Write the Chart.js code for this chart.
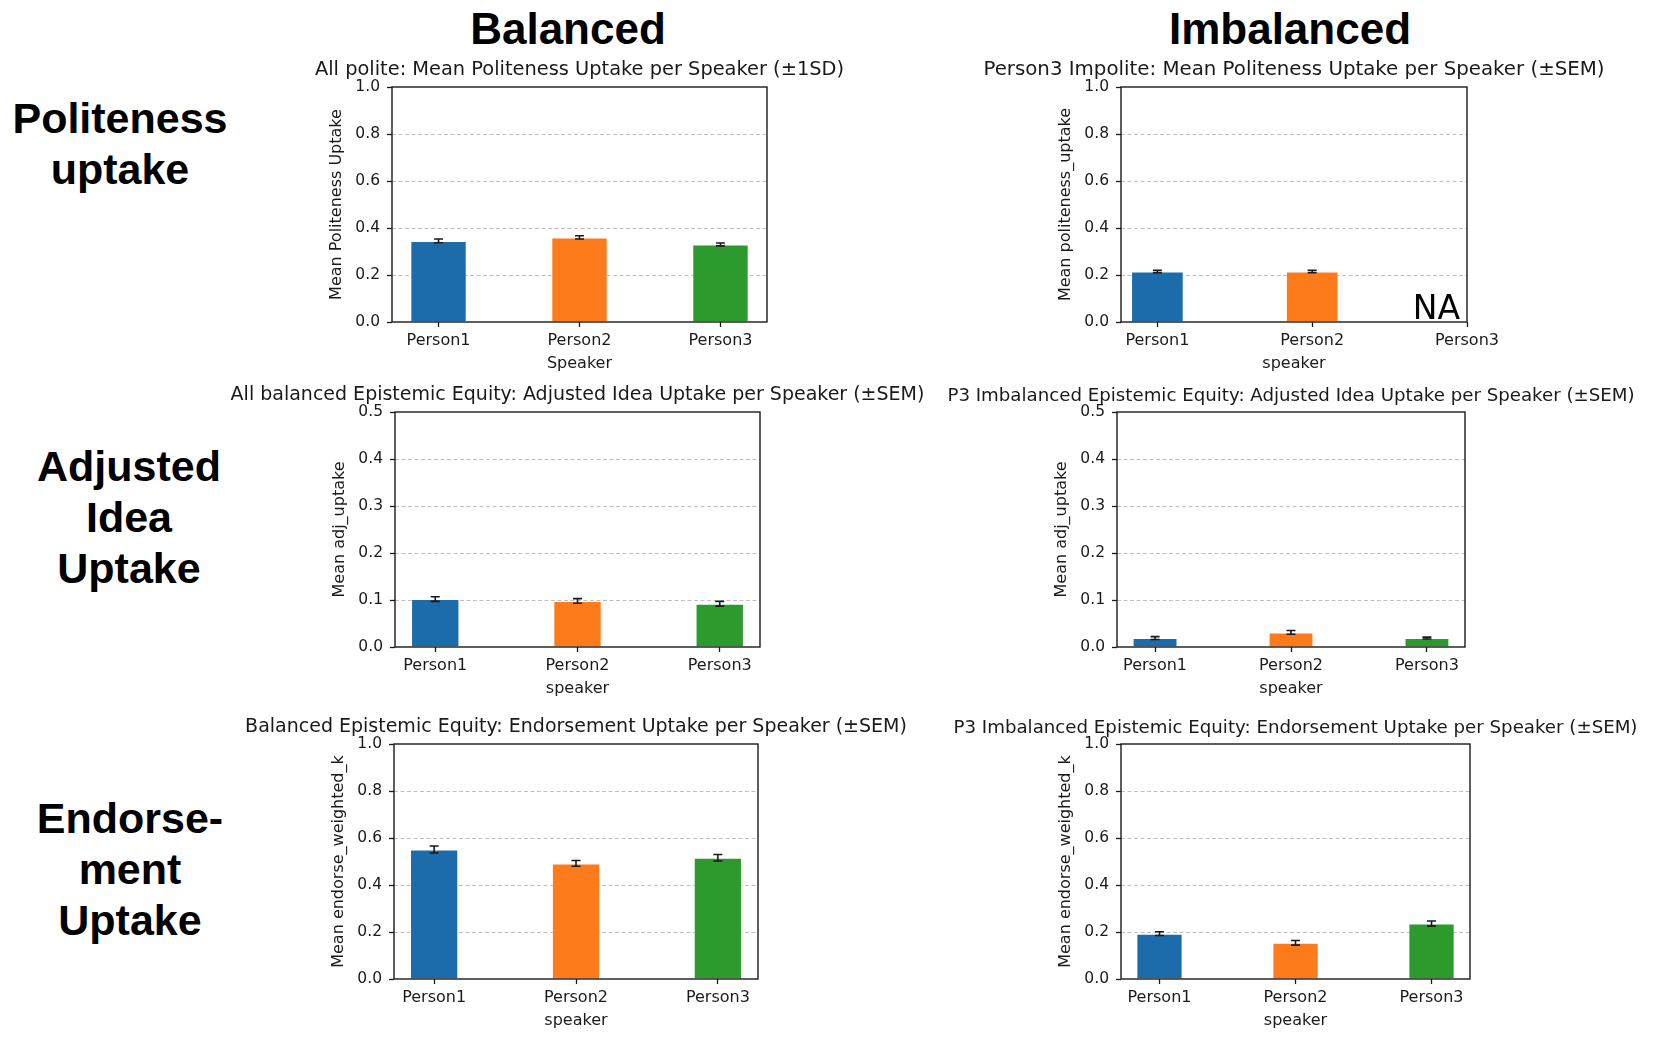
<!DOCTYPE html>
<html lang="en">
  <head>
    <meta charset="UTF-8" />
    <title>Uptake per Speaker</title>
    <script src="https://cdn.jsdelivr.net/npm/chart.js"></script>
    <style>
      body { margin: 0; background: #fff; }
      #page { position: relative; width: 1679px; height: 1047px; overflow: hidden; }
      .head, .row {
        position: absolute;
        font-family: "Liberation Sans", Arial, sans-serif;
        font-weight: bold;
        color: #000;
        text-align: center;
        white-space: nowrap;
      }
      .head { font-size: 44px; line-height: 52px; width: 400px; }
      .row { font-size: 43px; line-height: 51px; width: 240px; }
      canvas { position: absolute; }
    </style>
  </head>
  <body>
    <div id="page">
      <div class="head" style="left: 368px; top: 3px">Balanced</div>
      <div class="head" style="left: 1090px; top: 3px">Imbalanced</div>
      <div class="row" style="left: 0px; top: 93px">Politeness<br />uptake</div>
      <div class="row" style="left: 9px; top: 441px">Adjusted<br />Idea<br />Uptake</div>
      <div class="row" style="left: 10px; top: 793px">Endorse-<br />ment<br />Uptake</div>
    </div>

    <script>
      // speakers on the x axis
      const speakers = ["Person1", "Person2", "Person3"];

      // politeness uptake
      const polBalMean = [0.345, 0.36, 0.33];
      const polBalSD = [0.008, 0.007, 0.006];
      const polImbMean = [0.215, 0.215, null];
      const polImbSEM = [0.005, 0.005, null];

      // adjusted idea uptake
      const ideaBalMean = [0.102, 0.098, 0.092];
      const ideaBalSEM = [0.005, 0.005, 0.005];
      const ideaImbMean = [0.019, 0.031, 0.019];
      const ideaImbSEM = [0.003, 0.004, 0.002];

      // endorsement uptake
      const endBalMean = [0.551, 0.492, 0.516];
      const endBalSEM = [0.015, 0.012, 0.014];
      const endImbMean = [0.193, 0.154, 0.236];
      const endImbSEM = [0.008, 0.01, 0.011];

      const barColors = ["#1c6cab", "#fe7b1c", "#2d9a2d"];
      const FONT = "'DejaVu Sans', sans-serif";
      const INK = "#1a1a1a";

      // plot-area boxes (left, top, right, bottom), axis ranges, title size
      const panels = [
        { L: 392, T: 87, R: 767, B: 322, xMin: -0.33, xMax: 2.33, barW: 0.4, yMax: 1, step: 0.2, tSize: 19.4,
          title: "All polite: Mean Politeness Uptake per Speaker (\u00b11SD)",
          yTitle: "Mean Politeness Uptake", xTitle: "Speaker", mean: polBalMean, err: polBalSD },
        { L: 1121, T: 87, R: 1467, B: 322, xMin: -0.235, xMax: 2.0, barW: 0.34, yMax: 1, step: 0.2, tSize: 19.8,
          title: "Person3 Impolite: Mean Politeness Uptake per Speaker (\u00b1SEM)",
          yTitle: "Mean politeness_uptake", xTitle: "speaker", mean: polImbMean, err: polImbSEM, na: true },
        { L: 395, T: 412, R: 760, B: 647, xMin: -0.283, xMax: 2.283, barW: 0.34, yMax: 0.5, step: 0.1, tSize: 19,
          title: "All balanced Epistemic Equity: Adjusted Idea Uptake per Speaker (\u00b1SEM)",
          yTitle: "Mean adj_uptake", xTitle: "speaker", mean: ideaBalMean, err: ideaBalSEM },
        { L: 1117, T: 412, R: 1465, B: 647, xMin: -0.28, xMax: 2.28, barW: 0.33, yMax: 0.5, step: 0.1, tSize: 18.2,
          title: "P3 Imbalanced Epistemic Equity: Adjusted Idea Uptake per Speaker (\u00b1SEM)",
          yTitle: "Mean adj_uptake", xTitle: "speaker", mean: ideaImbMean, err: ideaImbSEM },
        { L: 394, T: 744, R: 758, B: 979, xMin: -0.283, xMax: 2.283, barW: 0.34, yMax: 1, step: 0.2, tSize: 19,
          title: "Balanced Epistemic Equity: Endorsement Uptake per Speaker (\u00b1SEM)",
          yTitle: "Mean endorse_weighted_k", xTitle: "speaker", mean: endBalMean, err: endBalSEM },
        { L: 1121, T: 744, R: 1470, B: 979, xMin: -0.283, xMax: 2.283, barW: 0.34, yMax: 1, step: 0.2, tSize: 18.2,
          title: "P3 Imbalanced Epistemic Equity: Endorsement Uptake per Speaker (\u00b1SEM)",
          yTitle: "Mean endorse_weighted_k", xTitle: "speaker", mean: endImbMean, err: endImbSEM },
      ];

      const SIDE = 190; // room left/right of the plot, so the title centres on it
      const TOP = 40;
      const BOTTOM = 62;

      // frame, error bars and the NA note
      const extras = {
        id: "extras",
        afterDatasetsDraw(chart, args, opts) {
          const { ctx, chartArea: a, scales } = chart;
          const x = scales.x, y = scales.y;
          ctx.save();
          ctx.strokeStyle = INK;
          ctx.lineWidth = 1.6;
          opts.mean.forEach((m, i) => {
            if (m == null) return;
            const px = x.getPixelForValue(i);
            const top = y.getPixelForValue(m + opts.err[i]);
            const bot = y.getPixelForValue(m - opts.err[i]);
            ctx.beginPath();
            ctx.moveTo(px, top); ctx.lineTo(px, bot);
            ctx.moveTo(px - 4.5, top); ctx.lineTo(px + 4.5, top);
            ctx.moveTo(px - 4.5, bot); ctx.lineTo(px + 4.5, bot);
            ctx.stroke();
          });
          ctx.lineWidth = 1.4;
          ctx.strokeRect(a.left, a.top, a.right - a.left, a.bottom - a.top);
          if (opts.na) {
            ctx.fillStyle = "#000";
            ctx.font = "33px " + FONT;
            ctx.textAlign = "right";
            ctx.textBaseline = "alphabetic";
            ctx.fillText("NA", x.getPixelForValue(2) - 7, y.getPixelForValue(0) - 3);
          }
          ctx.restore();
        },
      };

      const page = document.getElementById("page");

      panels.forEach((p) => {
        const w = p.R - p.L + 2 * SIDE;
        const h = p.B - p.T + TOP + BOTTOM;
        const canvas = document.createElement("canvas");
        canvas.width = w;
        canvas.height = h;
        canvas.style.width = w + "px";
        canvas.style.height = h + "px";
        canvas.style.left = p.L - SIDE + "px";
        canvas.style.top = p.T - TOP + "px";
        page.appendChild(canvas);

        // keep the title baseline ~10px above the plot whatever its size
        const lh = p.tSize * 1.2;
        const padBottom = 10 - (lh / 2 + 0.35 * p.tSize) + lh / 2 + 0.35 * p.tSize - 4.8;

        new Chart(canvas.getContext("2d"), {
          type: "bar",
          data: {
            datasets: [
              {
                data: speakers.map((s, i) => ({ x: i, y: p.mean[i] })),
                backgroundColor: barColors,
                borderColor: "rgba(255,255,255,0.35)",
                borderWidth: 1,
                barPercentage: 1,
                categoryPercentage: p.barW,
              },
            ],
          },
          options: {
            responsive: false,
            animation: false,
            devicePixelRatio: 1,
            layout: { padding: 0 },
            plugins: {
              legend: { display: false },
              tooltip: { enabled: false },
              title: {
                display: true,
                text: p.title,
                color: INK,
                font: { family: FONT, size: p.tSize, weight: "normal", lineHeight: 1.2 },
                padding: { top: TOP - lh - padBottom, bottom: padBottom },
              },
              extras: { mean: p.mean, err: p.err, na: !!p.na },
            },
            scales: {
              x: {
                type: "linear",
                min: p.xMin,
                max: p.xMax,
                offset: false,
                afterBuildTicks: (s) => { s.ticks = speakers.map((_, i) => ({ value: i })); },
                afterFit: (s) => { s.height = BOTTOM; },
                ticks: {
                  callback: (v, i) => speakers[i],
                  autoSkip: false,
                  maxRotation: 0,
                  color: INK,
                  font: { family: FONT, size: 16 },
                  padding: 4,
                },
                grid: { offset: false, drawOnChartArea: false, tickColor: INK, tickLength: 5, tickWidth: 1.3 },
                border: { display: false },
                title: {
                  display: true,
                  text: p.xTitle,
                  color: INK,
                  font: { family: FONT, size: 16 },
                  padding: { top: 0, bottom: 11 },
                },
              },
              y: {
                min: 0,
                max: p.yMax,
                afterFit: (s) => { s.width = SIDE; },
                ticks: {
                  stepSize: p.step,
                  callback: (v) => v.toFixed(1),
                  color: INK,
                  font: { family: FONT, size: 15.5 },
                  padding: 7,
                },
                grid: {
                  color: (c) =>
                    c.tick && c.tick.value > 1e-9 && c.tick.value < p.yMax - 1e-9
                      ? "rgba(0,0,0,0.25)"
                      : "rgba(0,0,0,0)",
                  lineWidth: 1,
                  tickColor: INK,
                  tickLength: 5,
                  tickWidth: 1.3,
                  tickBorderDash: [],
                },
                border: { display: false, dash: [4, 2.5] },
                title: {
                  display: true,
                  text: p.yTitle,
                  color: INK,
                  font: { family: FONT, size: 16 },
                  padding: { top: SIDE - 55 - 9.6, bottom: 0 },
                },
              },
              yPad: {
                position: "right",
                afterFit: (s) => { s.width = SIDE; },
                ticks: { display: false },
                grid: { display: false },
                border: { display: false },
              },
            },
          },
          plugins: [extras],
        });
      });
    </script>
  </body>
</html>
